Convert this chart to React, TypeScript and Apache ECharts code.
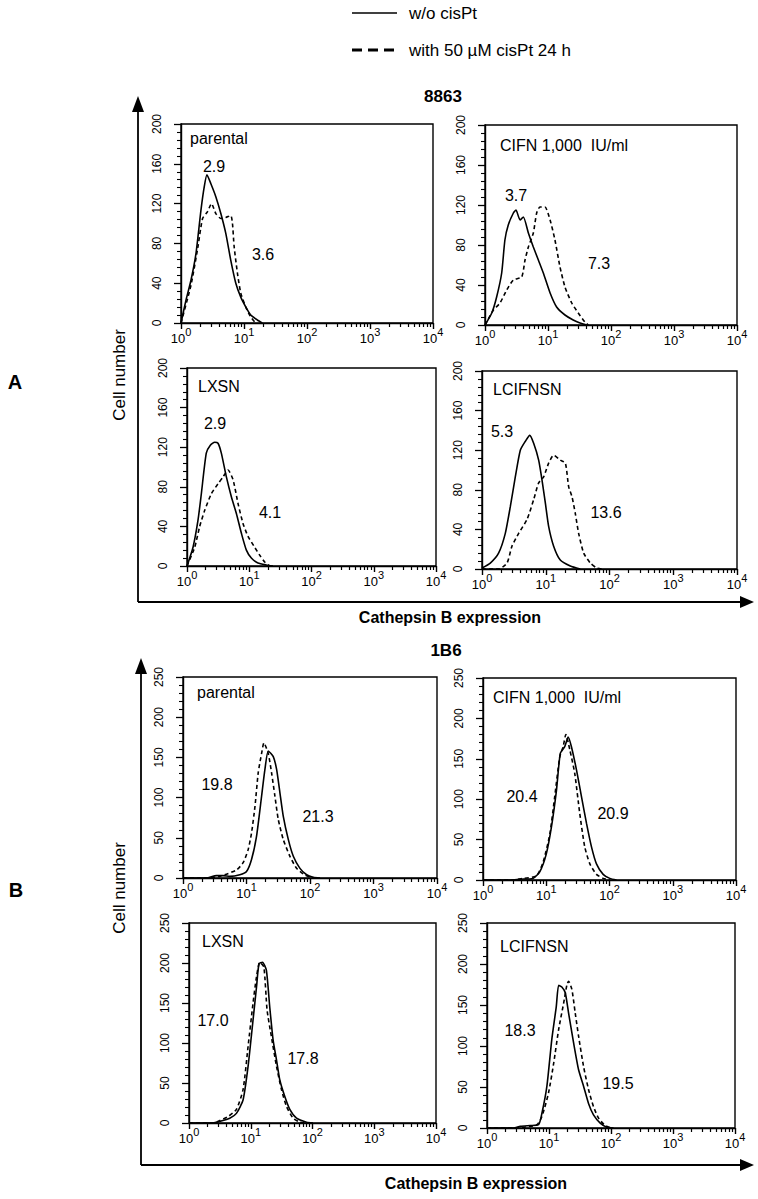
import React, { useEffect, useRef } from "react";
import * as echarts from "echarts";

// ---------------- DATA ----------------
const LEGEND_LABELS = ["w/o cisPt", "with 50 µM cisPt 24 h"];
const GROUP_TITLES = ["8863", "1B6"];
const GROUP_LETTERS = ["A", "B"];
const AXIS_TITLE_X = "Cathepsin B expression";
const AXIS_TITLE_Y = "Cell number";
const PANEL_NAMES = ["parental", "CIFN 1,000  IU/ml", "LXSN", "LCIFNSN"];
const MEANS_A = [["2.9", "3.6"], ["3.7", "7.3"], ["2.9", "4.1"], ["5.3", "13.6"]];
const MEANS_B = [["19.8", "21.3"], ["20.4", "20.9"], ["17.0", "17.8"], ["18.3", "19.5"]];

const X_DECADES = [1, 10, 100, 1000, 10000];
const X_MINOR = [2, 3, 4, 5, 6, 7, 8, 9, 20, 30, 40, 50, 60, 70, 80, 90, 200, 300, 400, 500, 600, 700, 800, 900, 2000, 3000, 4000, 5000, 6000, 7000, 8000, 9000];
const Y_TICKS_A = [0, 40, 80, 120, 160, 200];
const Y_TICKS_B = [0, 50, 100, 150, 200, 250];

// 8863 (A) — [fluorescence, cell count]
const A_PAR_SOLID = [[1, 0], [1.2, 23], [1.44, 43], [1.73, 70], [2.07, 113], [2.34, 137], [2.58, 149], [2.98, 140], [3.57, 127], [4.29, 110], [5.14, 90], [6.17, 63], [7.41, 40], [8.89, 26], [10.7, 16], [12.8, 8], [16.3, 3], [19.5, 0]];
const A_PAR_DASH = [[1, 0], [1.44, 38], [1.84, 75], [2.2, 105], [2.64, 112], [3.05, 120], [3.57, 110], [4.29, 105], [5.14, 106], [6.17, 108], [6.56, 100], [6.97, 77], [7.87, 50], [8.89, 30], [10.7, 16], [12.8, 6], [15.3, 0]];
const A_CIFN_SOLID = [[1, 0], [1.28, 12], [1.53, 28], [1.84, 52], [2.07, 85], [2.34, 100], [2.82, 112], [3.1, 115], [3.6, 105], [4.06, 108], [4.88, 92], [5.85, 78], [7.03, 65], [8.43, 52], [10.8, 32], [13.7, 18], [18.6, 10], [25.1, 5], [32.2, 2], [41.1, 0]];
const A_CIFN_DASH = [[1, 0], [1.36, 15], [1.73, 22], [2.21, 35], [2.82, 45], [3.82, 48], [4.32, 65], [4.88, 78], [5.85, 92], [6.61, 112], [7.46, 118], [8.95, 118], [10.8, 105], [12.9, 85], [15.5, 58], [18.6, 38], [23.8, 22], [30.2, 12], [38.6, 3], [43.7, 0]];
const A_LXSN_SOLID = [[1, 0], [1.25, 19], [1.5, 46], [1.7, 73], [2.04, 114], [2.37, 122], [2.79, 125], [3.15, 124], [3.56, 114], [4.29, 90], [5.16, 70], [6.21, 53], [7.48, 33], [8.99, 16], [10.8, 8], [13.8, 3], [18.8, 1], [24, 0]];
const A_LXSN_DASH = [[1, 0], [1.33, 19], [1.6, 40], [1.92, 56], [2.46, 73], [3.15, 83], [3.79, 90], [4.56, 97], [5.5, 87], [6.61, 63], [7.94, 43], [9.55, 30], [12.2, 19], [14.7, 11], [17.7, 4], [21.4, 0]];
const A_LCIF_SOLID = [[1, 1], [1.35, 6], [1.82, 16], [2.32, 36], [2.78, 63], [3.33, 93], [3.99, 120], [4.79, 129], [5.6, 135], [6.46, 127], [7.74, 110], [8.73, 90], [9.84, 67], [11.1, 43], [13.3, 23], [16.9, 9], [24.3, 3], [34.7, 0]];
const A_LCIF_DASH = [[1, 0], [1.82, 0], [2.47, 6], [2.95, 23], [3.76, 36], [5.08, 50], [6.46, 70], [7.74, 87], [9.27, 93], [11.1, 107], [13.3, 115], [16.9, 110], [20.3, 107], [22.9, 83], [25.8, 73], [29.1, 56], [32.8, 36], [39.4, 16], [50.1, 6], [63.1, 1], [75.9, 0]];

// 1B6 (B)
const B_PAR_SOLID = [[1, 0], [2.33, 0], [3.36, 3], [4.29, 3], [5.46, 2], [7.85, 4], [10, 8], [12, 23], [14.4, 52], [17.3, 102], [19.5, 135], [22, 158], [26.4, 151], [29.8, 135], [33.6, 106], [37.9, 77], [45.5, 48], [54.6, 27], [69.5, 12], [88.5, 4], [112, 1], [144, 0]];
const B_PAR_DASH = [[1, 0], [2.33, 0], [3.79, 2], [6.95, 10], [8.85, 19], [10.6, 35], [12, 56], [13.6, 89], [15.3, 131], [17.3, 155], [18.8, 168], [22, 155], [24.8, 131], [28, 102], [31.6, 73], [37.9, 48], [48.3, 27], [61.5, 12], [78.5, 5], [100, 1], [126, 0]];
const B_CIFN_SOLID = [[1, 0], [2.99, 0], [3.8, 1], [6.17, 2], [7.89, 10], [10, 32], [12.1, 66], [14.5, 111], [16.7, 157], [19.6, 165], [22.2, 177], [25, 165], [30.1, 136], [36.1, 103], [43.3, 70], [51.9, 41], [62.2, 20], [79.4, 7], [101, 2], [129, 0]];
const B_CIFN_DASH = [[1, 0], [2.99, 0], [4.3, 2], [6.98, 5], [8.91, 22], [11.4, 57], [13.6, 103], [16.4, 153], [18.5, 165], [20.4, 180], [23.6, 161], [28.2, 132], [33.9, 82], [40.6, 41], [48.9, 20], [62.2, 7], [79.4, 2], [101, 0]];
const B_LXSN_SOLID = [[1, 0], [2.45, 0], [3.14, 2], [4.57, 6], [5.86, 12], [7.52, 29], [9.06, 71], [10.9, 129], [12.4, 170], [13.6, 199], [15.5, 201], [17.9, 191], [20.3, 145], [23, 104], [26.1, 79], [29.5, 54], [35.6, 33], [42.9, 17], [55.1, 6], [80, 1], [102, 0]];
const B_LXSN_DASH = [[1, 0], [2.45, 0], [3.14, 3], [4.29, 8], [5.86, 17], [7.52, 42], [9.06, 96], [10.9, 150], [12.4, 183], [14, 201], [16.3, 195], [18.4, 141], [21.6, 108], [26.1, 71], [31.4, 42], [37.8, 21], [48.5, 6], [62.4, 1], [75.2, 0]];
const B_LCIF_SOLID = [[1, 0], [2.69, 0], [3.44, 2], [4.99, 3], [6.79, 4], [7.69, 18], [9.25, 51], [11.1, 108], [13.1, 148], [14.3, 174], [16.1, 172], [18.3, 165], [20.7, 140], [24.9, 104], [30, 71], [36.1, 51], [43.4, 30], [52.2, 16], [67, 6], [85.7, 1], [110, 0]];
const B_LCIF_DASH = [[1, 0], [2.69, 0], [3.89, 1], [6.38, 4], [7.69, 14], [9.84, 43], [11.9, 79], [14.3, 120], [17.2, 152], [19.5, 175], [20.7, 179], [23.4, 169], [26.5, 140], [30, 112], [36.1, 75], [43.4, 47], [52.2, 26], [63, 12], [80.5, 3], [103, 0]];

// ---------------- LAYOUT ----------------
const FONT = "'Liberation Sans', Arial, Helvetica, sans-serif";

type Panel = {
  rect: { left: number; top: number; width: number; height: number };
  yTicks: number[];
  solid: number[][];
  dashed: number[][];
  name: string;
  namePos: [number, number];
  means: string[];
  meanPos: [number, number][];
};

const PANELS: Panel[] = [
  { rect: { left: 181, top: 124, width: 252, height: 199 }, yTicks: Y_TICKS_A, solid: A_PAR_SOLID, dashed: A_PAR_DASH, name: PANEL_NAMES[0], namePos: [190, 138], means: MEANS_A[0], meanPos: [[214, 166], [263, 254]] },
  { rect: { left: 485, top: 125, width: 252, height: 200 }, yTicks: Y_TICKS_A, solid: A_CIFN_SOLID, dashed: A_CIFN_DASH, name: PANEL_NAMES[1], namePos: [500, 145], means: MEANS_A[1], meanPos: [[516, 195], [599, 263]] },
  { rect: { left: 187, top: 368, width: 249, height: 198 }, yTicks: Y_TICKS_A, solid: A_LXSN_SOLID, dashed: A_LXSN_DASH, name: PANEL_NAMES[2], namePos: [198, 386], means: MEANS_A[2], meanPos: [[215, 423], [270, 512]] },
  { rect: { left: 482, top: 371, width: 255, height: 198 }, yTicks: Y_TICKS_A, solid: A_LCIF_SOLID, dashed: A_LCIF_DASH, name: PANEL_NAMES[3], namePos: [493, 389], means: MEANS_A[3], meanPos: [[502, 431], [606, 512]] },
  { rect: { left: 183, top: 677, width: 254, height: 201 }, yTicks: Y_TICKS_B, solid: B_PAR_SOLID, dashed: B_PAR_DASH, name: PANEL_NAMES[0], namePos: [197, 692], means: MEANS_B[0], meanPos: [[217, 784], [318, 816]] },
  { rect: { left: 483, top: 678, width: 253, height: 202 }, yTicks: Y_TICKS_B, solid: B_CIFN_SOLID, dashed: B_CIFN_DASH, name: PANEL_NAMES[1], namePos: [493, 697], means: MEANS_B[1], meanPos: [[522, 796], [613, 813]] },
  { rect: { left: 189, top: 923, width: 247, height: 200 }, yTicks: Y_TICKS_B, solid: B_LXSN_SOLID, dashed: B_LXSN_DASH, name: PANEL_NAMES[2], namePos: [202, 941], means: MEANS_B[2], meanPos: [[213, 1020], [303, 1058]] },
  { rect: { left: 487, top: 923, width: 248, height: 205 }, yTicks: Y_TICKS_B, solid: B_LCIF_SOLID, dashed: B_LCIF_DASH, name: PANEL_NAMES[3], namePos: [500, 946], means: MEANS_B[3], meanPos: [[520, 1030], [618, 1083]] },
];

function txt(text: string, x: number, y: number, size: number, opts: any = {}) {
  const align = opts.align || "left";
  return {
    type: "text",
    x,
    y,
    rotation: opts.rotation || 0,
    silent: true,
    style: {
      text,
      fill: "#000",
      fontSize: size,
      fontFamily: FONT,
      fontWeight: opts.bold ? "bold" : "normal",
      align,
      verticalAlign: "middle",
      textAlign: align,
      textVerticalAlign: "middle",
    },
  };
}

function line(x1: number, y1: number, x2: number, y2: number, w = 1.6, dash?: number[]) {
  return {
    type: "line",
    silent: true,
    shape: { x1, y1, x2, y2 },
    style: { stroke: "#000", lineWidth: w, lineDash: dash || null },
  };
}

function tri(points: number[][]) {
  return { type: "polygon", silent: true, shape: { points }, style: { fill: "#000" } };
}

function buildOption() {
  const grids: any[] = [];
  const xAxes: any[] = [];
  const yAxes: any[] = [];
  const series: any[] = [];
  const graphics: any[] = [];

  PANELS.forEach((p, i) => {
    grids.push({
      ...p.rect,
      show: true,
      borderColor: "#000",
      borderWidth: 1.4,
      backgroundColor: "transparent",
      containLabel: false,
      outerBoundsMode: "none",
    });
    const yMax = p.yTicks[p.yTicks.length - 1];
    const yStep = p.yTicks[1] - p.yTicks[0];
    xAxes.push({
      type: "log",
      logBase: 10,
      gridIndex: i,
      min: X_DECADES[0],
      max: X_DECADES[X_DECADES.length - 1],
      position: "bottom",
      axisLine: { show: true, lineStyle: { color: "#000", width: 1.4 } },
      axisTick: { show: true, length: 6, lineStyle: { color: "#000", width: 1.4 }, customValues: X_DECADES },
      axisLabel: {
        customValues: X_DECADES,
        margin: 3,
        formatter: (v: number) => `{b|10}{s|${Math.round(Math.log10(v))}}`,
        rich: {
          b: { fontSize: 13, fontFamily: FONT, color: "#000", lineHeight: 19, verticalAlign: "bottom" },
          s: { fontSize: 11, fontFamily: FONT, color: "#000", lineHeight: 12, verticalAlign: "top" },
        },
      },
      splitLine: { show: false },
    });
    xAxes.push({
      type: "log",
      logBase: 10,
      gridIndex: i,
      min: X_DECADES[0],
      max: X_DECADES[X_DECADES.length - 1],
      position: "bottom",
      axisLine: { show: false },
      axisTick: { show: true, length: 4, lineStyle: { color: "#000", width: 1.2 }, customValues: X_MINOR },
      axisLabel: { show: false },
      splitLine: { show: false },
    });
    yAxes.push({
      type: "value",
      gridIndex: i,
      min: 0,
      max: yMax,
      interval: yStep,
      axisLine: { show: true, lineStyle: { color: "#000", width: 1.4 } },
      axisTick: { show: true, length: 7, lineStyle: { color: "#000", width: 1.3 } },
      minorTick: { show: true, splitNumber: 5, length: 4, lineStyle: { color: "#000", width: 1.1 } },
      axisLabel: { rotate: 90, fontSize: 12, fontFamily: FONT, color: "#000", margin: 18 },
      splitLine: { show: false },
    });
    series.push({
      type: "line",
      name: LEGEND_LABELS[1],
      xAxisIndex: 2 * i,
      yAxisIndex: i,
      data: p.dashed,
      showSymbol: false,
      smooth: 0.2,
      silent: true,
      lineStyle: { color: "#000", width: 1.6, type: [4, 3] },
    });
    series.push({
      type: "line",
      name: LEGEND_LABELS[0],
      xAxisIndex: 2 * i,
      yAxisIndex: i,
      data: p.solid,
      showSymbol: false,
      smooth: 0.2,
      silent: true,
      lineStyle: { color: "#000", width: 1.6 },
    });
    graphics.push(txt(p.name, p.namePos[0], p.namePos[1], 16));
    graphics.push(txt(p.means[0], p.meanPos[0][0], p.meanPos[0][1], 16, { align: "center" }));
    graphics.push(txt(p.means[1], p.meanPos[1][0], p.meanPos[1][1], 16, { align: "center" }));
  });

  // legend
  graphics.push(line(352, 13, 397, 13, 1.6));
  graphics.push(txt(LEGEND_LABELS[0], 409, 13, 17));
  graphics.push(line(352, 50, 397, 50, 3, [10, 6]));
  graphics.push(txt(LEGEND_LABELS[1], 409, 50, 17));

  // group titles
  graphics.push(txt(GROUP_TITLES[0], 443, 96, 17, { align: "center", bold: true }));
  graphics.push(txt(GROUP_TITLES[1], 446, 650, 17, { align: "center", bold: true }));

  // outer frames A
  graphics.push(line(138, 110, 138, 602, 1.8));
  graphics.push(tri([[132, 112], [144, 112], [138, 96]]));
  graphics.push(line(138, 602, 742, 602, 1.8));
  graphics.push(tri([[740, 596], [740, 608], [754, 602]]));
  // outer frames B
  graphics.push(line(141, 672, 141, 1165, 1.8));
  graphics.push(tri([[135, 674], [147, 674], [141, 658]]));
  graphics.push(line(141, 1165, 742, 1165, 1.8));
  graphics.push(tri([[740, 1159], [740, 1171], [754, 1165]]));

  // axis titles
  graphics.push(txt(AXIS_TITLE_X, 450, 617, 16, { align: "center", bold: true }));
  graphics.push(txt(AXIS_TITLE_X, 476, 1183, 16, { align: "center", bold: true }));
  graphics.push(txt(AXIS_TITLE_Y, 119, 375, 17, { align: "center", rotation: Math.PI / 2 }));
  graphics.push(txt(AXIS_TITLE_Y, 119, 888, 17, { align: "center", rotation: Math.PI / 2 }));
  graphics.push(txt(GROUP_LETTERS[0], 15, 382, 20, { align: "center", bold: true }));
  graphics.push(txt(GROUP_LETTERS[1], 16, 890, 20, { align: "center", bold: true }));

  return {
    animation: false,
    backgroundColor: "#fff",
    textStyle: { fontFamily: FONT },
    grid: grids,
    xAxis: xAxes,
    yAxis: yAxes,
    series,
    graphic: { elements: graphics },
  };
}

export default function App() {
  const ref = useRef<HTMLDivElement>(null);
  useEffect(() => {
    if (!ref.current) return;
    const chart = echarts.init(ref.current, null, { renderer: "svg" });
    chart.setOption(buildOption() as any);
    return () => chart.dispose();
  }, []);
  return (
    <div
      ref={ref}
      style={{ position: "absolute", left: 0, top: 0, width: 758, height: 1199, background: "#fff" }}
    />
  );
}
